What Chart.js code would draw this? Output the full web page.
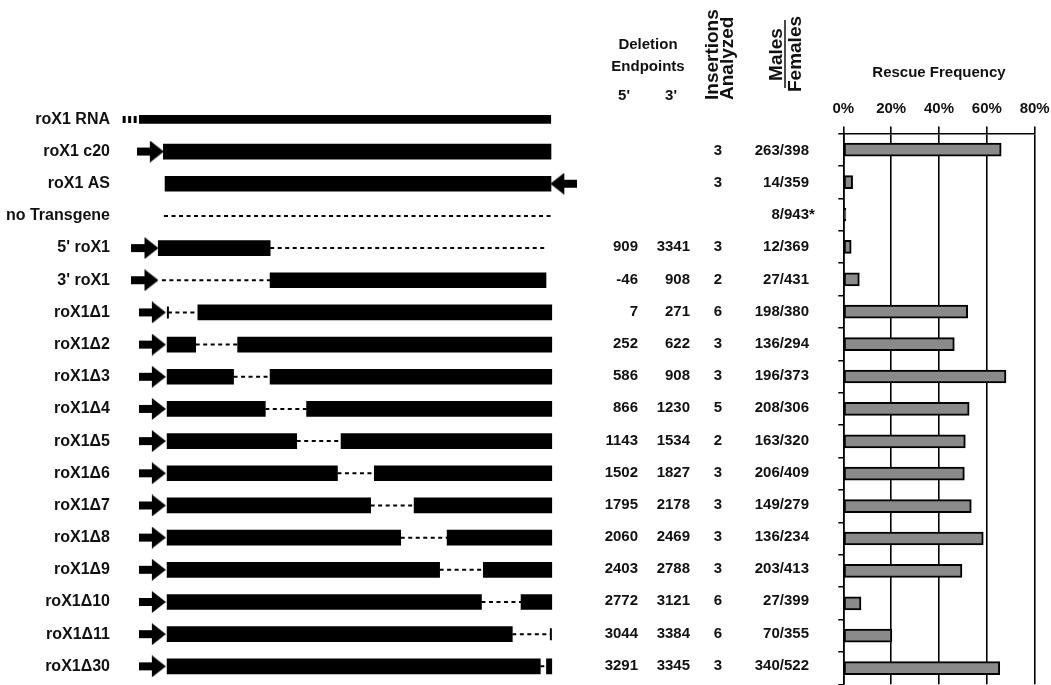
<!DOCTYPE html>
<html>
<head>
<meta charset="utf-8">
<script src="https://cdn.jsdelivr.net/npm/chart.js@4.4.1/dist/chart.umd.min.js"></script>
<style>
  html, body { margin: 0; padding: 0; background: #fff; overflow: hidden; }
  body { width: 1051px; height: 685px; position: relative; }
  #wrapA { position: absolute; left: 0; top: 0; width: 830px; height: 700px; }
  #wrapB { position: absolute; left: 800px; top: 0; width: 251px; height: 700px; }
</style>
</head>
<body>
<div id="wrapA"><canvas id="constructChart"></canvas></div>
<div id="wrapB"><canvas id="rescueChart"></canvas></div>
<script>
// rows, top to bottom
const rowLabels = ['roX1 RNA', 'roX1 c20', 'roX1 AS', 'no Transgene', "5' roX1", "3' roX1",
  'roX1Δ1', 'roX1Δ2', 'roX1Δ3', 'roX1Δ4', 'roX1Δ5', 'roX1Δ6', 'roX1Δ7', 'roX1Δ8',
  'roX1Δ9', 'roX1Δ10', 'roX1Δ11', 'roX1Δ30'];
const rowKind = ['rna', 'full', 'full', 'none', 'del', 'del', 'del', 'del', 'del', 'del',
  'del', 'del', 'del', 'del', 'del', 'del', 'del', 'del'];

// construct extent in bp (as drawn)
const segStart = [-245, -33, -18, -27, -78, -46, 0, 0, 0, 0, 0, 0, 0, 0, 0, 0, 0, 0];
const segEnd = [3383, 3385, 3385, 3390, 3341, 3341, 3392, 3392, 3392, 3392, 3392, 3392,
  3392, 3392, 3392, 3392, 3384, 3392];

// deletion endpoints (table columns)
const del5 = [null, null, null, null, 909, -46, 7, 252, 586, 866, 1143, 1502, 1795, 2060, 2403, 2772, 3044, 3291];
const del3 = [null, null, null, null, 3341, 908, 271, 622, 908, 1230, 1534, 1827, 2178, 2469, 2788, 3121, 3384, 3345];
const insertions = [null, 3, 3, null, 3, 2, 6, 3, 3, 5, 2, 3, 3, 3, 3, 6, 6, 3];
const malesFemales = ['', '263/398', '14/359', '8/943*', '12/369', '27/431', '198/380', '136/294',
  '196/373', '208/306', '163/320', '206/409', '149/279', '136/234', '203/413', '27/399',
  '70/355', '340/522'];

// promoter arrows (bp at arrow centre), stub ticks, RNA leader marks
const arrowFwd = [null, -148, null, null, -195, -195, -130, -130, -130, -130, -130, -130,
  -130, -130, -130, -130, -130, -130];
const arrowRev = [null, null, 3498, null, null, null, null, null, null, null, null, null,
  null, null, null, null, null, null];
const stubTick = [null, null, null, null, null, null, 7, null, null, null, null, null,
  null, null, null, null, 3384, null];
const rnaLeader = [-392, -268];

// rescue frequency (%), rows roX1 c20 .. roX1Δ30
const rescueFreq = [66, 3.9, 1.1, 3.3, 6.7, 52, 46.4, 68, 52.6, 51, 50.6, 53.5, 58.5, 49.6, 7.4, 20.3, 65.4];
const rescueTicks = [0, 20, 40, 60, 80];

const FONT = '"Liberation Sans", Arial, Helvetica, sans-serif';
const INK = '#111';

// build construct pieces
const solidSegs = [];
const rnaSegs = [];
const deletedPts = [];
rowLabels.forEach((row, i) => {
  const s = segStart[i], e = segEnd[i];
  if (rowKind[i] === 'rna') {
    rnaSegs.push({ y: row, x: [s, e] });
  } else if (rowKind[i] === 'full') {
    solidSegs.push({ y: row, x: [s, e] });
  } else if (rowKind[i] === 'none') {
    deletedPts.push({ x: s, y: row }, { x: e, y: row }, { x: null, y: row });
  } else {
    const a = del5[i], b = del3[i];
    if (a - s > 20) solidSegs.push({ y: row, x: [s, a] });
    deletedPts.push({ x: Math.max(a, s), y: row }, { x: b, y: row }, { x: null, y: row });
    if (e - b > 20) solidSegs.push({ y: row, x: [b, e] });
  }
});

function pointsFrom(arr) {
  const out = [];
  arr.forEach((v, i) => { if (v !== null) out.push({ x: v, y: rowLabels[i] }); });
  return out;
}

function makeArrow(dir) {
  const c = document.createElement('canvas');
  c.width = 27; c.height = 22;
  const g = c.getContext('2d');
  g.fillStyle = '#000';
  if (dir < 0) { g.translate(27, 0); g.scale(-1, 1); }
  g.fillRect(0, 7, 15, 8);
  g.beginPath();
  g.moveTo(13, 0); g.lineTo(27, 11); g.lineTo(13, 22);
  g.closePath();
  g.fill();
  return c;
}

// table + headers next to the constructs
const tablePlugin = {
  id: 'tableText',
  afterDatasetsDraw(chart) {
    const ctx = chart.ctx;
    const yScale = chart.scales.y;
    ctx.save();
    ctx.fillStyle = INK;
    ctx.font = 'bold 15px ' + FONT;
    ctx.textBaseline = 'alphabetic';
    rowLabels.forEach((row, i) => {
      const by = yScale.getPixelForValue(i) - 2 + 5.4;
      ctx.textAlign = 'right';
      if (del5[i] !== null) ctx.fillText(String(del5[i]), 638, by);
      if (del3[i] !== null) ctx.fillText(String(del3[i]), 690, by);
      let mf = malesFemales[i];
      if (mf) {
        if (mf.endsWith('*')) {
          mf = mf.slice(0, -1);
          ctx.textAlign = 'left';
          ctx.fillText('*', 809, by);
          ctx.textAlign = 'right';
        }
        ctx.fillText(mf, 809, by);
      }
      ctx.textAlign = 'center';
      if (insertions[i] !== null) ctx.fillText(String(insertions[i]), 718, by);
    });

    ctx.textAlign = 'center';
    ctx.fillText('Deletion', 648, 49);
    ctx.fillText('Endpoints', 648, 71);
    ctx.fillText("5'", 624, 99.5);
    ctx.fillText("3'", 671, 99.5);

    ctx.font = 'bold 19px ' + FONT;
    const vText = (txt, x, y, align) => {
      ctx.save();
      ctx.translate(x, y);
      ctx.rotate(-Math.PI / 2);
      ctx.textAlign = align;
      ctx.fillText(txt, 0, 0);
      ctx.restore();
    };
    vText('Insertions', 718, 100, 'left');
    vText('Analyzed', 733, 100, 'left');
    vText('Males', 782, 54.5, 'center');
    vText('Females', 801, 54, 'center');
    ctx.strokeStyle = INK;
    ctx.lineWidth = 1.5;
    ctx.beginPath();
    ctx.moveTo(785, 20); ctx.lineTo(785, 88);
    ctx.stroke();
    ctx.restore();
  }
};

new Chart(document.getElementById('constructChart'), {
  type: 'bar',
  data: {
    labels: rowLabels,
    datasets: [
      { type: 'bar', data: rnaSegs, backgroundColor: '#000', barThickness: 8, grouped: false },
      { type: 'bar', data: solidSegs, backgroundColor: '#000', barThickness: 15, grouped: false },
      { type: 'line', data: deletedPts, borderColor: '#000', borderWidth: 2, borderDash: [4, 3.5],
        pointRadius: 0, fill: false, spanGaps: false },
      { type: 'line', data: [{ x: rnaLeader[0], y: rowLabels[0] }, { x: rnaLeader[1], y: rowLabels[0] }],
        borderColor: '#000', borderWidth: 7, borderDash: [3, 2.5], borderCapStyle: 'butt', pointRadius: 0 },
      { type: 'line', data: pointsFrom(arrowFwd), showLine: false, pointStyle: makeArrow(1), pointRadius: 10 },
      { type: 'line', data: pointsFrom(arrowRev), showLine: false, pointStyle: makeArrow(-1), pointRadius: 10 },
      { type: 'line', data: pointsFrom(stubTick), showLine: false, pointStyle: 'line', rotation: 90,
        pointRadius: 6, pointBorderWidth: 2, pointBorderColor: '#000' }
    ]
  },
  options: {
    indexAxis: 'y',
    responsive: true,
    maintainAspectRatio: false,
    animation: false,
    events: [],
    layout: { padding: { top: 103.3, bottom: 13.5, left: 0, right: 240 } },
    plugins: { legend: { display: false }, tooltip: { enabled: false } },
    scales: {
      x: { type: 'linear', display: false, min: -433, max: 3729 },
      y: {
        type: 'category',
        offset: true,
        grid: { display: false, drawTicks: false },
        border: { display: false },
        ticks: { color: INK, padding: 8, font: { family: FONT, size: 16, weight: 'bold' } },
        afterFit: s => { s.width = 118; }
      }
    }
  },
  plugins: [tablePlugin]
});

new Chart(document.getElementById('rescueChart'), {
  type: 'bar',
  data: {
    labels: rowLabels.slice(1),
    datasets: [{
      data: rescueFreq,
      backgroundColor: '#8a8a8a',
      borderColor: '#000',
      borderWidth: 2,
      borderSkipped: false,
      barThickness: 13
    }]
  },
  options: {
    indexAxis: 'y',
    responsive: true,
    maintainAspectRatio: false,
    animation: false,
    events: [],
    layout: { padding: { top: 62, left: 38.3, right: 16.3, bottom: 15.7 } },
    plugins: {
      legend: { display: false },
      tooltip: { enabled: false },
      title: {
        display: true, text: 'Rescue Frequency', fullSize: false, color: INK,
        font: { family: FONT, size: 15, weight: 'bold' }, padding: { top: 2, bottom: 11.5 }
      }
    },
    scales: {
      x: {
        position: 'top', min: rescueTicks[0], max: rescueTicks[rescueTicks.length - 1],
        afterBuildTicks: s => { s.ticks = rescueTicks.map(v => ({ value: v })); },
        ticks: { color: INK, padding: 9, font: { family: FONT, size: 15, weight: 'bold' }, callback: v => v + '%' },
        grid: { color: '#000', lineWidth: 1.6, tickLength: 7 },
        border: { color: '#000', width: 1.6 },
        afterFit: s => { s.height = 40; s.paddingLeft = 0; s.paddingRight = 0; }
      },
      y: {
        ticks: { display: false },
        grid: { drawOnChartArea: false, color: '#000', lineWidth: 1.5, tickLength: 5 },
        border: { color: '#000', width: 1.6 },
        afterFit: s => { s.width = 5; }
      }
    }
  }
});
</script>
</body>
</html>
